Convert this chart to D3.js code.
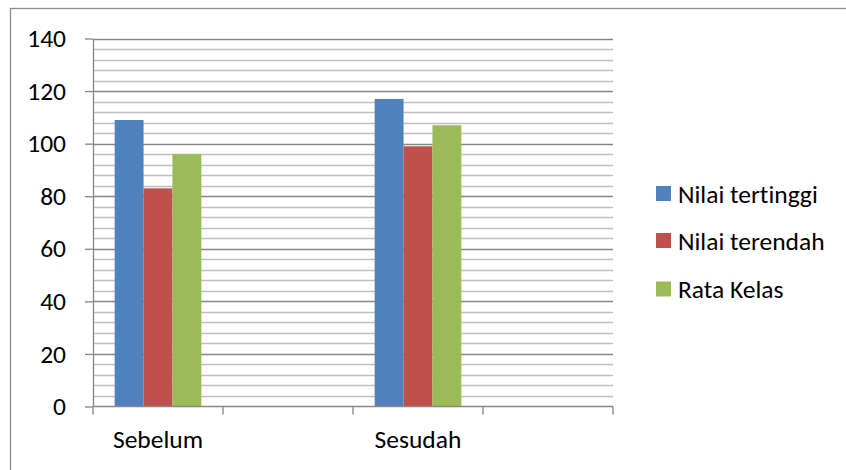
<!DOCTYPE html>
<html>
<head>
<meta charset="utf-8">
<script src="https://cdn.jsdelivr.net/npm/d3@7/dist/d3.min.js"></script>
<style>
  html, body { margin: 0; padding: 0; background: #fff; }
  svg { display: block; font-family: Carlito, "Open Sans", Lato, sans-serif; font-variant-ligatures: none; }
</style>
</head>
<body>
<svg id="chart" width="846" height="470"></svg>
<script>
// Category slots along the x axis (two slots are left empty)
const categories = ["Sebelum", "", "Sesudah", ""];
// Series
const seriesNames = ["Nilai tertinggi", "Nilai terendah", "Rata Kelas"];
const nilaiTertinggi = [109, null, 117, null];
const nilaiTerendah = [83, null, 99, null];
const rataKelas = [96, null, 107, null];
const seriesColors = ["#4F81BD", "#C0504D", "#9BBB59"];
// Axis ticks
const yMajorTicks = [0, 20, 40, 60, 80, 100, 120, 140];
const yMinorStep = 4;

const seriesValues = [nilaiTertinggi, nilaiTerendah, rataKelas];
const FONT = 25.5;

const svg = d3.select("#chart");
const plot = { left: 93, right: 613, top: 38.5, bottom: 406.5 };

// Chart area border (runs past the right and bottom edges)
svg.append("rect")
  .attr("x", 10.5).attr("y", 8.5)
  .attr("width", 900).attr("height", 500)
  .attr("fill", "#fff")
  .attr("stroke", "#8c8c8c").attr("stroke-width", 1.3);

const y = d3.scaleLinear().domain([0, 140]).range([plot.bottom, plot.top]);
const x = d3.scaleBand().domain(d3.range(categories.length))
  .range([plot.left, plot.right]).paddingInner(0).paddingOuter(0);
const xs = d3.scaleBand().domain(d3.range(seriesNames.length))
  .range([0, x.bandwidth()]).paddingInner(0).paddingOuter(0.75);

// Minor gridlines
const minorTicks = d3.range(0, 140 + 0.001, yMinorStep).filter(v => v % 20 !== 0);
svg.append("g").selectAll("line").data(minorTicks).join("line")
  .attr("x1", plot.left).attr("x2", plot.right)
  .attr("y1", d => Math.round(y(d)) + 0.5).attr("y2", d => Math.round(y(d)) + 0.5)
  .attr("stroke", "#bfbfbf").attr("stroke-width", 1.3);

// Major gridlines
svg.append("g").selectAll("line").data(yMajorTicks.filter(v => v > 0)).join("line")
  .attr("x1", plot.left).attr("x2", plot.right)
  .attr("y1", d => Math.round(y(d)) + 0.5).attr("y2", d => Math.round(y(d)) + 0.5)
  .attr("stroke", "#868686").attr("stroke-width", 1.3);

// Bars
const rows = [];
categories.forEach((c, i) => {
  seriesValues.forEach((vals, s) => {
    if (vals[i] != null) rows.push({ cat: i, s, v: vals[i] });
  });
});
svg.append("g").selectAll("rect").data(rows).join("rect")
  .attr("x", d => x(d.cat) + xs(d.s))
  .attr("width", xs.bandwidth())
  .attr("y", d => y(d.v))
  .attr("height", d => y(0) - y(d.v))
  .attr("fill", d => seriesColors[d.s]);

// Y axis
const yAxis = d3.axisLeft(y).tickValues(yMajorTicks).tickSize(8).tickPadding(19).tickSizeOuter(0);
const gy = svg.append("g").attr("transform", `translate(${plot.left},0)`).call(yAxis);
gy.select(".domain").attr("stroke", "#868686").attr("stroke-width", 1.3);
gy.selectAll(".tick line").attr("stroke", "#868686").attr("stroke-width", 1.3);
gy.selectAll(".tick text").attr("font-size", FONT).attr("fill", "#000")
  .attr("font-family", "Carlito, 'Open Sans', Lato, sans-serif");

// X axis: ticks at category boundaries, labels centred in each slot
const gx = svg.append("g");
gx.append("line")
  .attr("x1", plot.left).attr("x2", plot.right)
  .attr("y1", y(0)).attr("y2", y(0))
  .attr("stroke", "#868686").attr("stroke-width", 1.3);
const boundaries = d3.range(categories.length + 1).map(i => i < categories.length ? x(i) : plot.right);
gx.selectAll("line.tk").data(boundaries).join("line").attr("class", "tk")
  .attr("x1", d => d).attr("x2", d => d)
  .attr("y1", y(0)).attr("y2", y(0) + 8)
  .attr("stroke", "#868686").attr("stroke-width", 1.3);
gx.selectAll("text").data(categories).join("text")
  .attr("x", (d, i) => x(i) + x.bandwidth() / 2)
  .attr("y", 448)
  .attr("text-anchor", "middle")
  .attr("font-size", FONT)
  .attr("fill", "#000")
  .text(d => d);

// Legend
const legend = svg.append("g");
const legendY = [193.5, 240.5, 289];
seriesNames.forEach((name, i) => {
  legend.append("rect")
    .attr("x", 656).attr("y", legendY[i] - 7.5)
    .attr("width", 15).attr("height", 15)
    .attr("fill", seriesColors[i]);
  legend.append("text")
    .attr("x", 678).attr("y", legendY[i])
    .attr("dy", "0.36em")
    .attr("font-size", FONT)
    .attr("fill", "#000")
    .text(name);
});
</script>
</body>
</html>
